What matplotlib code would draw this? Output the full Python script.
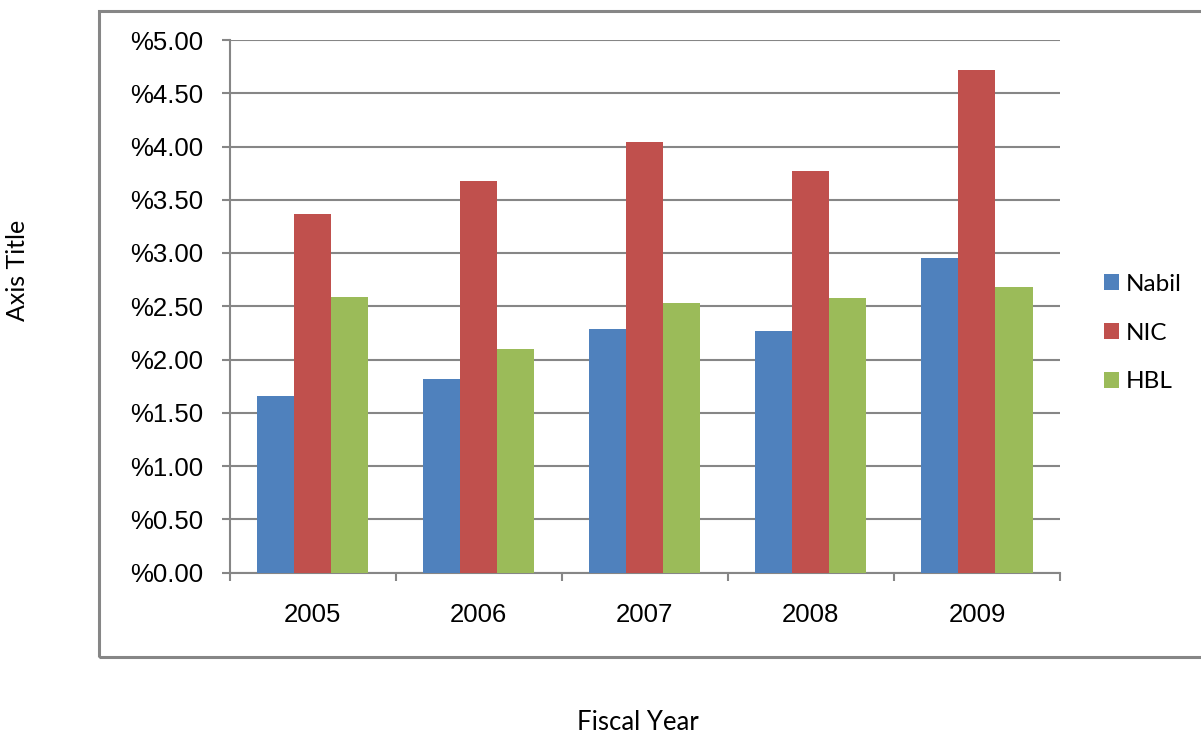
import matplotlib.pyplot as plt
from matplotlib.patches import Rectangle, Patch
import numpy as np

# fiscal years and ratios (percent)
years = ['2005', '2006', '2007', '2008', '2009']
nabil = [1.66, 1.82, 2.29, 2.27, 2.95]
nic = [3.37, 3.68, 4.04, 3.77, 4.72]
hbl = [2.59, 2.10, 2.53, 2.58, 2.68]
series = ['Nabil', 'NIC', 'HBL']
colors = ['#4F81BD', '#C0504D', '#9BBB59']
yticks = [0.0, 0.5, 1.0, 1.5, 2.0, 2.5, 3.0, 3.5, 4.0, 4.5, 5.0]

W, H = 1201, 736
fig = plt.figure(figsize=(W / 100, H / 100), dpi=100)
grey = '#868686'

# outer chart frame (runs off the right edge)
fig.patches.append(Rectangle((99 / W, 1 - 657 / H), 1150 / W, 646 / H,
                             transform=fig.transFigure, fill=False,
                             edgecolor=grey, linewidth=2.2))

ax = fig.add_axes([229.5 / W, 1 - 572.5 / H, (1060 - 229.5) / W, (572.5 - 40) / H])

x = np.arange(len(years)) + 0.5
bw = 0.223
for i, vals in enumerate([nabil, nic, hbl]):
    ax.bar(x + (i - 1) * bw, vals, width=bw, color=colors[i], zorder=3, label=series[i])

ax.set_xlim(0, 5)
ax.set_ylim(0, 5)
ax.set_yticks(yticks)
ax.set_yticklabels(['%{:.2f}'.format(v) for v in yticks])
ax.set_xticks(x)
ax.set_xticklabels(years)
ax.set_xticks(np.arange(0, 6), minor=True)
ax.tick_params(axis='x', which='major', length=0, pad=22, labelsize=18.5)
ax.tick_params(axis='x', which='minor', length=6, width=1.5, color=grey)
ax.tick_params(axis='y', length=6, width=1.5, color=grey, pad=13, labelsize=18.5)
for lab in ax.get_xticklabels() + ax.get_yticklabels():
    lab.set_fontfamily('Liberation Sans')

ax.grid(axis='y', color=grey, linewidth=1.5, zorder=0)
for s in ['top', 'right']:
    ax.spines[s].set_visible(False)
for s in ['left', 'bottom']:
    ax.spines[s].set_color(grey)
    ax.spines[s].set_linewidth(1.5)

handles = [Patch(facecolor=c) for c in colors]
fig.legend(handles, series, loc='center left', bbox_to_anchor=(1082 / W, 1 - 333 / H),
           frameon=False, prop={'family': 'Lato', 'size': 17.5}, handlelength=0.62,
           handleheight=0.62, handletextpad=0.3, labelspacing=1.15)

fig.text(18 / W, 1 - 270 / H, 'Axis Title', rotation=90, ha='center', va='center',
         fontsize=18, family='Lato')
fig.text(638 / W, 1 - 722 / H, 'Fiscal Year', ha='center', va='center',
         fontsize=18.5, family='Lato')

fig.savefig('out.png', dpi=100)
